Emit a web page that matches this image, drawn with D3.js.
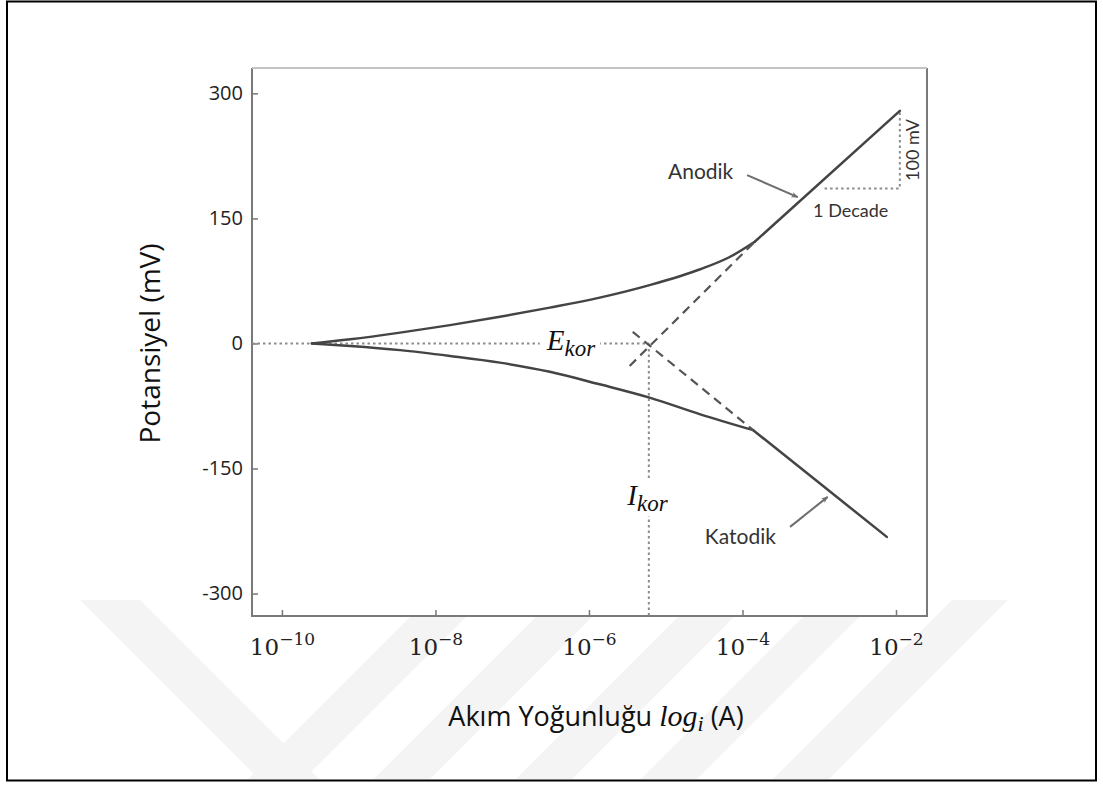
<!DOCTYPE html>
<html>
<head>
<meta charset="utf-8">
<script src="https://cdn.jsdelivr.net/npm/d3@7"></script>
<style>
body { margin: 0; background: #fff; }
</style>
</head>
<body>
<div class="chart"></div>
<script>
// values: log10 of current density, potential in mV
var xTickExp = [-10, -8, -6, -4, -2];
var yTicks = [300, 150, 0, -150, -300];

var anodicLogI = [-9.61, -9.11, -8.46, -7.81, -7.16, -6.51, -5.86, -5.21, -4.55, -4.16, -3.84];
var anodicE = [0, 5, 13, 22, 32, 43, 55, 70, 89, 104, 122];
var cathodicLogI = [-9.61, -9.11, -8.46, -7.81, -7.16, -6.51, -5.86, -5.21, -4.55, -3.86];
var cathodicE = [0, -3, -8, -15, -23, -34, -49, -65, -85, -104];

var anodicTafelLogI = [-3.84, -1.95];
var anodicTafelE = [122, 279];
var cathodicTafelLogI = [-3.86, -2.12];
var cathodicTafelE = [-104, -232];

var anodicExtLogI = [-5.47, -3.84];
var anodicExtE = [-27, 122];
var cathodicExtLogI = [-5.43, -3.86];
var cathodicExtE = [14, -104];

var corrLogI = -5.22, corrE = 0;

var decadeLogI = [-2.93, -1.95, -1.95];
var decadeE = [186, 186, 279];

function chart() {
    var W = 1103, H = 785;
    var frame = {left: 252, right: 927, top: 68, bottom: 616};

    var x = d3.scaleLog()
        .domain([Math.pow(10, -10.39), Math.pow(10, -1.596)])
        .range([frame.left, frame.right]);
    var y = d3.scaleLinear()
        .domain([-326.9, 330.4])
        .range([frame.bottom, frame.top]);

    var X = function(l) { return x(Math.pow(10, l)); };

    var svg = d3.select(".chart").append("svg")
        .attr("width", W)
        .attr("height", H);

    var defs = svg.append("defs");
    defs.append("clipPath").attr("id", "wm")
        .append("rect").attr("x", 9).attr("y", 600).attr("width", W - 18).attr("height", H - 606);
    defs.append("marker")
        .attr("id", "arrow")
        .attr("viewBox", "0 0 10 8")
        .attr("refX", 9).attr("refY", 4)
        .attr("markerWidth", 7).attr("markerHeight", 6)
        .attr("markerUnits", "userSpaceOnUse")
        .attr("orient", "auto")
        .append("path")
        .attr("d", "M0,0 L10,4 L0,8 L3,4 z")
        .attr("fill", "#6e6e6e");

    // faint watermark stripes at the bottom
    var wm = svg.append("g").attr("clip-path", "url(#wm)").attr("fill", "#f4f4f4");
    var slash = [415, 541, 683, 808, 940];
    slash.forEach(function(c) {
        wm.append("polygon").attr("points", [
            [c + 40 - 28, 600], [c + 40 + 28, 600], [c - 141 + 28, 781], [c - 141 - 28, 781]
        ].join(" "));
    });
    wm.append("polygon").attr("points", [
        [150 - 40 - 30, 600], [150 - 40 + 30, 600], [150 + 141 + 30, 781], [150 + 141 - 30, 781]
    ].join(" "));

    // outer border
    svg.append("rect")
        .attr("x", 7).attr("y", 1.5)
        .attr("width", 1089).attr("height", 779)
        .attr("fill", "none")
        .attr("stroke", "#000")
        .attr("stroke-width", 2);

    svg.append("rect")
        .attr("x", frame.left).attr("y", frame.top)
        .attr("width", frame.right - frame.left).attr("height", frame.bottom - frame.top)
        .attr("fill", "#fff");

    // axes
    var xAxis = d3.axisBottom(x)
        .tickValues(xTickExp.map(function(e) { return Math.pow(10, e); }))
        .tickSizeInner(-6).tickSizeOuter(0)
        .tickFormat("");
    var yAxis = d3.axisLeft(y)
        .tickValues(yTicks)
        .tickSizeInner(-6).tickSizeOuter(0)
        .tickPadding(9)
        .tickFormat(function(d) { return String(d); });

    var gx = svg.append("g")
        .attr("transform", "translate(0," + frame.bottom + ")")
        .call(xAxis);
    gx.select(".domain").remove();
    gx.selectAll(".tick line").attr("stroke", "#777").attr("stroke-width", 1.5);
    gx.selectAll(".tick").each(function(d, i) {
        var t = d3.select(this).append("text")
            .attr("y", 39)
            .attr("fill", "#222")
            .attr("text-anchor", "middle")
            .style("font-family", "'DejaVu Serif', serif")
            .style("font-size", "23px");
        t.append("tspan").text("10");
        t.append("tspan")
            .attr("dy", -10)
            .style("font-size", "17px")
            .text("\u2212" + Math.abs(xTickExp[i]));
    });

    var gy = svg.append("g")
        .attr("transform", "translate(" + frame.left + ",0)")
        .call(yAxis);
    gy.select(".domain").remove();
    gy.selectAll(".tick line").attr("stroke", "#777").attr("stroke-width", 1.5);
    gy.selectAll(".tick text")
        .attr("fill", "#222")
        .style("font-family", "'Open Sans', sans-serif")
        .style("font-size", "20px");

    // frame
    svg.append("path")
        .attr("d", "M" + frame.left + "," + frame.top + "V" + frame.bottom + "H" + frame.right + "V" + frame.top)
        .attr("fill", "none").attr("stroke", "#7a7a7a").attr("stroke-width", 2);
    svg.append("line")
        .attr("x1", frame.left).attr("x2", frame.right)
        .attr("y1", frame.top).attr("y2", frame.top)
        .attr("stroke", "#c4c4c4").attr("stroke-width", 2);

    var line = d3.line()
        .x(function(d) { return X(d[0]); })
        .y(function(d) { return y(d[1]); });
    var curve = d3.line()
        .x(function(d) { return X(d[0]); })
        .y(function(d) { return y(d[1]); })
        .curve(d3.curveMonotoneX);
    var zip = function(a, b) { return a.map(function(v, i) { return [v, b[i]]; }); };

    // dotted guides at E_corr and I_corr
    var dotted = svg.append("g")
        .attr("fill", "none").attr("stroke", "#8c8c8c")
        .attr("stroke-width", 2).attr("stroke-dasharray", "2.5,3");
    dotted.append("path").attr("d", line([[-10.39, corrE], [corrLogI, corrE]]));
    dotted.append("path").attr("d", line([[corrLogI, corrE], [corrLogI, -326.9]]));
    dotted.append("path").attr("d", line(zip(decadeLogI, decadeE)));

    // polarisation curves
    var solid = svg.append("g")
        .attr("fill", "none").attr("stroke", "#444")
        .attr("stroke-width", 2.5).attr("stroke-linecap", "round");
    solid.append("path").attr("d", curve(zip(anodicLogI, anodicE)));
    solid.append("path").attr("d", curve(zip(cathodicLogI, cathodicE)));
    solid.append("path").attr("d", line(zip(anodicTafelLogI, anodicTafelE)));
    solid.append("path").attr("d", line(zip(cathodicTafelLogI, cathodicTafelE)));

    var dashed = svg.append("g")
        .attr("fill", "none").attr("stroke", "#555")
        .attr("stroke-width", 2.2).attr("stroke-dasharray", "9,6");
    dashed.append("path").attr("d", line(zip(anodicExtLogI, anodicExtE)));
    dashed.append("path").attr("d", line(zip(cathodicExtLogI, cathodicExtE)));

    // math labels with a white backing so the dotted guides break around them
    function mathLabel(l, e, main, sub) {
        var g = svg.append("g");
        var t = g.append("text")
            .attr("x", X(l)).attr("y", y(e))
            .attr("fill", "#111")
            .style("font-family", "'Liberation Serif', serif")
            .style("font-style", "italic")
            .style("font-size", "29px");
        t.append("tspan").text(main);
        t.append("tspan").attr("dy", 6).style("font-size", "23px").text(sub);
        var b = t.node().getBBox();
        g.insert("rect", "text")
            .attr("x", b.x - 6).attr("y", b.y)
            .attr("width", b.width + 10).attr("height", b.height)
            .attr("fill", "#fff");
    }
    mathLabel(-6.55, -8, "E", "kor");
    mathLabel(-5.50, -194, "I", "kor");

    // annotations
    var note = svg.append("g")
        .attr("fill", "#333")
        .style("font-family", "Lato, 'Open Sans', sans-serif");
    note.append("text").attr("x", X(-4.97)).attr("y", y(197))
        .style("font-size", "21px").text("Anodik");
    note.append("text").attr("x", X(-4.49)).attr("y", y(-240))
        .style("font-size", "21px").text("Katodik");
    note.append("text").attr("x", X(-2.59)).attr("y", y(152))
        .attr("text-anchor", "middle")
        .style("font-size", "18px").text("1 Decade");
    note.append("text")
        .attr("transform", "translate(" + X(-1.7) + "," + y(232) + ") rotate(-90)")
        .attr("text-anchor", "middle")
        .style("font-size", "18px").text("100 mV");

    var arrows = svg.append("g")
        .attr("stroke", "#6e6e6e").attr("stroke-width", 2)
        .attr("marker-end", "url(#arrow)");
    arrows.append("path").attr("d", line([[-3.94, 202], [-3.28, 175.5]]));
    arrows.append("path").attr("d", line([[-3.38, -220], [-2.89, -184]]));

    // axis titles
    svg.append("text")
        .attr("transform", "translate(160," + y(0) + ") rotate(-90)")
        .attr("text-anchor", "middle")
        .attr("fill", "#111")
        .style("font-family", "'Open Sans', sans-serif")
        .style("font-size", "28px")
        .text("Potansiyel (mV)");

    var xt = svg.append("text")
        .attr("x", 596)
        .attr("y", 726)
        .attr("text-anchor", "middle")
        .attr("fill", "#111")
        .style("font-family", "'Open Sans', sans-serif")
        .style("font-size", "27px");
    xt.append("tspan").text("Akım Yoğunluğu ");
    xt.append("tspan").style("font-family", "'Liberation Serif', serif")
        .style("font-style", "italic").style("font-size", "30px").text("log");
    xt.append("tspan").attr("dy", 5).style("font-family", "'Liberation Serif', serif")
        .style("font-style", "italic").style("font-size", "22px").text("i");
    xt.append("tspan").attr("dy", -5).text(" (A)");
}

chart();
</script>
</body>
</html>
